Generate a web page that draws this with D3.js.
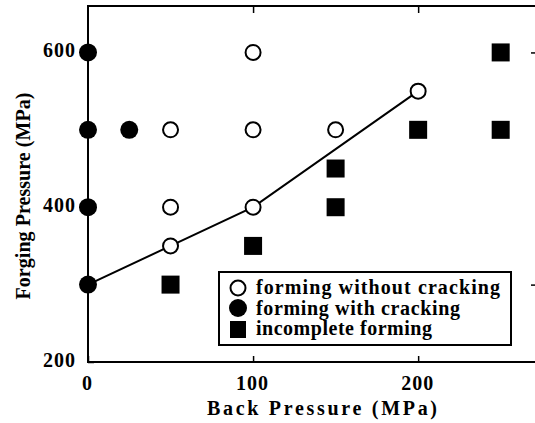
<!DOCTYPE html>
<html lang="en">
<head>
    <script src="https://d3js.org/d3.v7.min.js"></script>
    <style>
        body { margin: 0; background: #fff; }
        text { font-family: "Liberation Serif", "Times New Roman", serif; font-weight: bold; fill: #000; }
    </style>
</head>
<body>
    <div id="chart"></div>
    <script>
        // back pressure (MPa), forging pressure (MPa)
        const withoutCracking = [[100, 600], [50, 500], [100, 500], [150, 500], [200, 550], [50, 400], [100, 400], [50, 350]];
        const withCracking = [[0, 600], [0, 500], [25, 500], [0, 400], [0, 300]];
        const incomplete = [[250, 600], [200, 500], [250, 500], [150, 450], [150, 400], [100, 350], [50, 300]];
        const boundary = [[0, 300], [50, 350], [100, 400], [200, 550]];

        const xTicks = [0, 100, 200];
        const yTicks = [200, 400, 600];
        const rightTicks = [300, 600];
        const legendLabels = ["forming without cracking", "forming with cracking", "incomplete forming"];

        const width = 535;
        const height = 423;

        const svg = d3.select("#chart")
            .append("svg")
            .attr("width", width)
            .attr("height", height);

        const xScale = d3.scaleLinear().domain([0, 272]).range([88, 537]);
        const yScale = d3.scaleLinear().domain([200, 660]).range([362, 6]);

        // frame
        svg.append("rect")
            .attr("x", xScale(0))
            .attr("y", yScale(660))
            .attr("width", xScale(272) - xScale(0))
            .attr("height", yScale(200) - yScale(660))
            .attr("fill", "none")
            .attr("stroke", "#000")
            .attr("stroke-width", 2);

        const xAxis = d3.axisBottom(xScale).tickValues(xTicks).tickSize(-6).tickPadding(14);
        const yAxis = d3.axisLeft(yScale).tickValues(yTicks).tickSize(-6).tickPadding(12);

        const gx = svg.append("g")
            .attr("transform", "translate(0," + yScale(200) + ")")
            .call(xAxis);
        svg.append("g")
            .attr("transform", "translate(0," + yScale(660) + ")")
            .call(d3.axisTop(xScale).tickValues([100, 200]).tickSize(-7).tickFormat(""));
        const gy = svg.append("g")
            .attr("transform", "translate(" + xScale(0) + ",0)")
            .call(yAxis);
        svg.append("g")
            .attr("transform", "translate(" + xScale(272) + ",0)")
            .call(d3.axisRight(yScale).tickValues(rightTicks).tickSize(-6).tickFormat(""));

        svg.selectAll(".domain").remove();
        svg.selectAll(".tick line").attr("stroke", "#000").attr("stroke-width", 1.5);
        svg.selectAll(".tick text")
            .style("font-family", "'Liberation Serif', serif")
            .style("font-weight", "bold")
            .attr("font-size", 20)
            .attr("letter-spacing", 1);
        gx.selectAll(".tick text").attr("dx", -1);
        gy.selectAll(".tick text").attr("dy", "0.2em");

        // axis titles
        svg.append("text")
            .attr("x", 322)
            .attr("y", 415)
            .attr("text-anchor", "middle")
            .attr("font-size", 20)
            .attr("textLength", 230)
            .attr("lengthAdjust", "spacing")
            .text("Back Pressure (MPa)");

        svg.append("text")
            .attr("transform", "translate(30,196) rotate(-90)")
            .attr("text-anchor", "middle")
            .attr("font-size", 20)
            .attr("textLength", 207)
            .attr("lengthAdjust", "spacing")
            .text("Forging Pressure (MPa)");

        // boundary line
        const line = d3.line().x(d => xScale(d[0])).y(d => yScale(d[1]));
        svg.append("path")
            .datum(boundary)
            .attr("d", line)
            .attr("fill", "none")
            .attr("stroke", "#000")
            .attr("stroke-width", 2);

        svg.selectAll(".open")
            .data(withoutCracking)
            .enter().append("circle")
            .attr("class", "open")
            .attr("cx", d => xScale(d[0]))
            .attr("cy", d => yScale(d[1]))
            .attr("r", 7.5)
            .attr("fill", "#fff")
            .attr("stroke", "#000")
            .attr("stroke-width", 2);

        svg.selectAll(".filled")
            .data(withCracking)
            .enter().append("circle")
            .attr("class", "filled")
            .attr("cx", d => xScale(d[0]))
            .attr("cy", d => yScale(d[1]))
            .attr("r", 9)
            .attr("fill", "#000");

        svg.selectAll(".square")
            .data(incomplete)
            .enter().append("rect")
            .attr("class", "square")
            .attr("x", d => xScale(d[0]) - 9)
            .attr("y", d => yScale(d[1]) - 9)
            .attr("width", 18)
            .attr("height", 18)
            .attr("fill", "#000");

        // legend
        const legend = svg.append("g").attr("transform", "translate(219,272)");
        legend.append("rect")
            .attr("width", 292)
            .attr("height", 73)
            .attr("fill", "#fff")
            .attr("stroke", "#000")
            .attr("stroke-width", 2);

        legend.append("circle")
            .attr("cx", 19).attr("cy", 16).attr("r", 7.5)
            .attr("fill", "#fff").attr("stroke", "#000").attr("stroke-width", 2);
        legend.append("circle")
            .attr("cx", 19).attr("cy", 36).attr("r", 9)
            .attr("fill", "#000");
        legend.append("rect")
            .attr("x", 11).attr("y", 49).attr("width", 16).attr("height", 17)
            .attr("fill", "#000");

        const legendLengths = [244, 204, 176];
        legend.selectAll(".label")
            .data(legendLabels)
            .enter().append("text")
            .attr("class", "label")
            .attr("x", 37)
            .attr("y", (d, i) => 22 + i * 20.5)
            .attr("font-size", 20)
            .attr("textLength", (d, i) => legendLengths[i])
            .attr("lengthAdjust", "spacing")
            .text(d => d);
    </script>
</body>
</html>
